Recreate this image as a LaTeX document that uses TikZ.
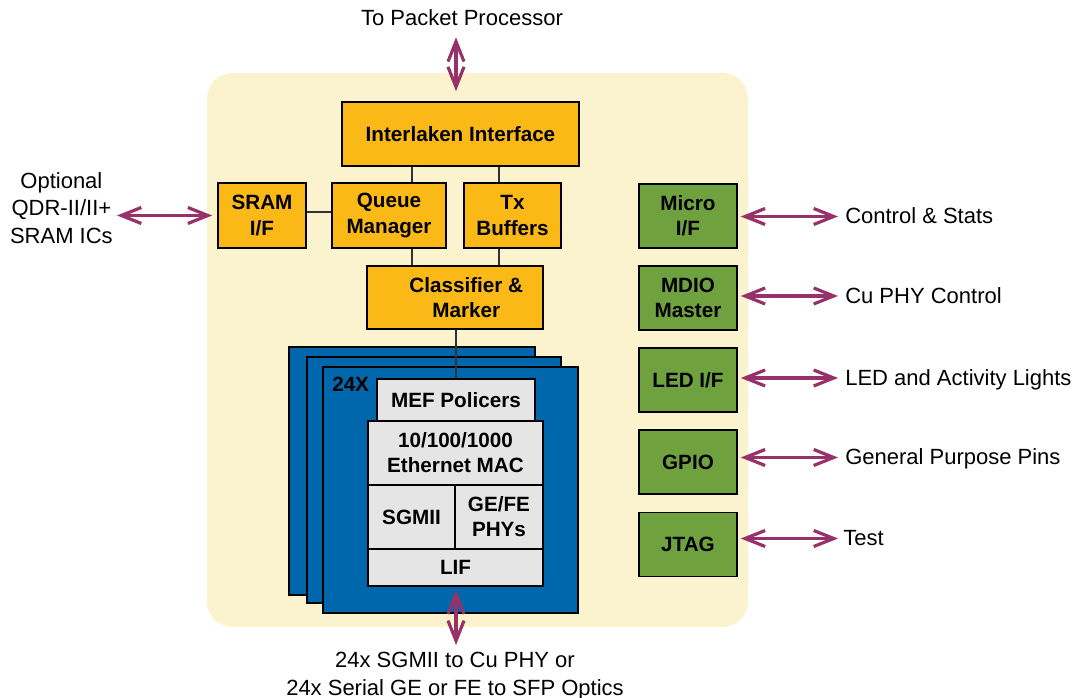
\documentclass[tikz,border=0pt]{standalone}
\usepackage{fontspec}
\setmainfont{Liberation Sans}
\usetikzlibrary{arrows.meta,calc}
\definecolor{creamC}{RGB}{251,243,206}
\definecolor{orangeC}{RGB}{251,185,23}
\definecolor{greenC}{RGB}{111,162,63}
\definecolor{blueC}{RGB}{0,103,172}
\definecolor{grayC}{RGB}{229,229,229}
\definecolor{arrC}{RGB}{150,50,105}
\definecolor{lineC}{RGB}{50,50,50}
\newcommand{\boxfnt}{\fontsize{15.5}{18.8}\selectfont\bfseries}
\newcommand{\lblfnt}{\fontsize{16.5}{20.6}\selectfont}
\begin{document}
\begin{tikzpicture}[x=0.75pt,y=-0.75pt,
  every node/.style={inner sep=0pt},
  sz/.style 2 args={minimum width=#1*0.75pt, minimum height=#2*0.75pt},
  box/.style={draw=black, line width=1.2pt, font=\boxfnt, align=center},
  obox/.style={box, fill=orangeC},
  gbox/.style={box, fill=greenC},
  wbox/.style={box, fill=grayC, line width=1pt},
  bbox/.style={draw=black, fill=blueC, line width=1.2pt},
  conn/.style={draw=lineC, line width=1.1pt},
  arr/.style={draw=arrC, line width=2.4pt, >={Straight Barb[length=15pt,width=12pt]}, <->},
  lbl/.style={font=\lblfnt, text height=11pt, text depth=0pt},
  mlbl/.style={font=\lblfnt, align=center},
]
\useasboundingbox (0,0) rectangle (1076,698);
% background
\fill[creamC, rounded corners=19pt] (207,73) rectangle (748,627);

% top section
\node[obox, sz={237}{64}] (inter) at (460.5,134) {Interlaken Interface};
\node[obox, sz={88}{65}] (sram) at (262,215.5) {SRAM\\I/F};
\node[obox, sz={114}{65}] (qm) at (389,215.5) {Queue\\Manager};
\node[obox, sz={97}{65}] (tx) at (512.5,215.5) {Tx\\Buffers};
\node[obox, sz={176}{63}, label={[font=\boxfnt, align=center, xshift=8.5pt]center:Classifier \&\\Marker}] (cls) at (455,297.5) {};

% blue stack
\node[bbox, sz={246}{248}] (b1) at (412,471) {};
\node[bbox, sz={254}{246}] (b2) at (434,480) {};
\node[bbox, sz={255}{246}] (b3) at (450.5,490) {};
\node[font=\boxfnt, anchor=base west] (x24) at (332,392) {24X};

\node[wbox, sz={158}{42}] (mef) at (456,400) {MEF Policers};
\node[wbox, sz={175}{64}] (mac) at (455.5,453) {10/100/1000\\Ethernet MAC};
\node[wbox, sz={87}{64}] (sgmii) at (411.5,517) {SGMII};
\node[wbox, sz={88}{64}] (gefe) at (499,517) {GE/FE\\PHYs};
\node[wbox, sz={175}{37}] (lif) at (455.5,567.5) {LIF};

% connectors
\draw[conn] (inter.south -| 412,0) -- (qm.north -| 412,0);
\draw[conn] (inter.south -| 499,0) -- (tx.north -| 499,0);
\draw[conn] (qm.south -| 412,0) -- (cls.north -| 412,0);
\draw[conn] (tx.south -| 499,0) -- (cls.north -| 499,0);
\draw[conn] (sram.east |- 0,212) -- (qm.west |- 0,212);
\draw[conn] (cls.south -| mef.north) -- (mef.north);

% green boxes
\node[gbox, sz={98}{64}] (micro) at (688,216) {Micro\\I/F};
\node[gbox, sz={98}{64}] (mdio) at (688,298) {MDIO\\Master};
\node[gbox, sz={98}{64}] (led) at (688,380) {LED I/F};
\node[gbox, sz={98}{64}] (gpio) at (688,462) {GPIO};
\node[gbox, sz={98}{64}] (jtag) at (688,544.5) {JTAG};

% right labels
\node[lbl, anchor=west] (ctrl) at (845,216.5) {Control \& Stats};
\node[lbl, anchor=west] (cuphy) at (845,296) {Cu PHY Control};
\node[lbl, anchor=west] (ledl) at (845,378) {LED and Activity Lights};
\node[lbl, anchor=west] (gpp) at (845,457.5) {General Purpose Pins};
\node[lbl, anchor=west] (test) at (843,538.5) {Test};

\draw[arr] ([xshift=2.25pt]micro.east |- ctrl.west) -- ([xshift=-5.25pt]ctrl.west);
\draw[arr] ([xshift=2.25pt]mdio.east |- cuphy.west) -- ([xshift=-5.25pt]cuphy.west);
\draw[arr] ([xshift=2.25pt]led.east |- ledl.west) -- ([xshift=-5.25pt]ledl.west);
\draw[arr] ([xshift=2.25pt]gpio.east |- gpp.west) -- ([xshift=-5.25pt]gpp.west);
\draw[arr] ([xshift=2.25pt]jtag.east |- test.west) -- ([xshift=-3.75pt]test.west);

% left
\node[mlbl, anchor=east] (qdr) at (113,208) {Optional\\QDR-II/II+\\SRAM ICs};
\draw[arr] ([xshift=3pt]qdr.east |- sram.west) -- ([xshift=-3.75pt]sram.west);

% top
\node[lbl, anchor=base] (tpp) at (462,26) {To Packet Processor};
\draw[arr] ([yshift=-8.25pt]tpp.south -| 456,0) -- ([yshift=7.5pt]inter.north -| 456,0);

% bottom
\node[mlbl, anchor=north] (bt) at (455,652) {24x SGMII to Cu PHY or\\24x Serial GE or FE to SFP Optics};
\draw[arr] ([yshift=-2.25pt]lif.south -| 456,0) -- ([yshift=5.25pt]bt.north -| 456,0);
\end{tikzpicture}
\end{document}
